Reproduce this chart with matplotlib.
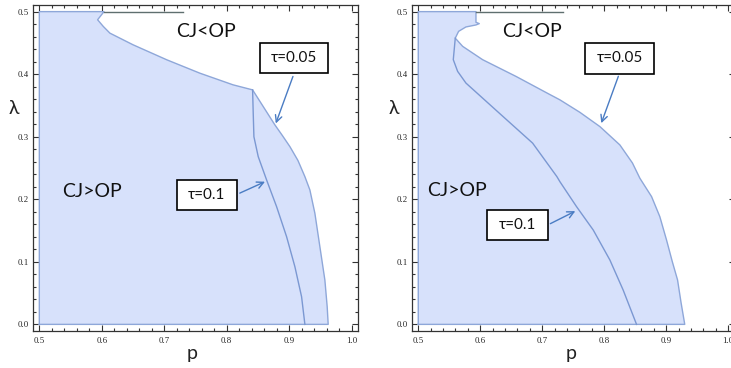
import numpy as np
import matplotlib.pyplot as plt
from matplotlib.patches import Rectangle

# --- Data (p, lambda) ---
# left panel: outer boundary (tau=0.05), from the notch at the top down to lambda=0
left_outer_p = [0.6035, 0.5933, 0.6024, 0.613, 0.650, 0.704, 0.757, 0.810, 0.8414,
                0.8771, 0.889, 0.9011, 0.914, 0.9251, 0.9331, 0.9411, 0.9491, 0.9571, 0.9608, 0.9624]
left_outer_lam = [0.5, 0.487, 0.4763, 0.4656, 0.447, 0.423, 0.4016, 0.383, 0.3749,
                  0.3189, 0.302, 0.2842, 0.262, 0.2362, 0.2149, 0.1776, 0.1242, 0.0709, 0.0282, 0.0]
# left panel: inner curve (tau=0.1)
left_inner_p = [0.8414, 0.8424, 0.8435, 0.8504, 0.8638, 0.8798, 0.8958, 0.9091, 0.9198, 0.9251]
left_inner_lam = [0.3749, 0.3376, 0.300, 0.2682, 0.2309, 0.1882, 0.1402, 0.0922, 0.0442, 0.0]

# right panel: outer boundary (tau=0.05)
right_outer_p = [0.5931, 0.5931, 0.5984, 0.5931, 0.5769, 0.5651, 0.5597, 0.5716, 0.6038,
                 0.6576, 0.7113, 0.7285, 0.7608, 0.7931, 0.8253, 0.8456, 0.8576, 0.8765,
                 0.8898, 0.9006, 0.910, 0.9184, 0.924, 0.930]
right_outer_lam = [0.5, 0.483, 0.4808, 0.4787, 0.4755, 0.4685, 0.4576, 0.4445, 0.4232,
                   0.3965, 0.368, 0.359, 0.339, 0.3162, 0.2869, 0.258, 0.2336, 0.2042,
                   0.1722, 0.1349, 0.100, 0.071, 0.035, 0.0]
# right panel: inner curve (tau=0.1)
right_inner_p = [0.5597, 0.5565, 0.5635, 0.5769, 0.6306, 0.6845, 0.7237, 0.7285,
                 0.7554, 0.7823, 0.8092, 0.8306, 0.8522]
right_inner_lam = [0.4576, 0.4232, 0.4045, 0.3858, 0.3378, 0.2898, 0.2362, 0.2282,
                   0.1882, 0.1509, 0.1029, 0.0549, 0.0]

# end of the dark line along lambda = 0.5
top_line_end = [0.7304, 0.733]

fill_col = '#d7e1fb'
edge_col = '#8ea7d9'
inner_col = '#7b98d2'
arrow_col = '#4a7cc3'

fig = plt.figure(figsize=(7.31, 3.68), dpi=100)
ax1 = fig.add_axes([32.7 / 731, 37 / 368, 325.6 / 731, 326 / 368])
ax2 = fig.add_axes([411.7 / 731, 37 / 368, 323 / 731, 326 / 368])


def draw_panel(ax, outer_p, outer_lam, inner_p, inner_lam, line_end):
    poly_p = [0.5, 0.5] + outer_p + [0.5]
    poly_l = [0.0, 0.5] + outer_lam + [0.0]
    ax.fill(poly_p, poly_l, color=fill_col, lw=0, zorder=1)
    ax.plot(poly_p, poly_l, color=edge_col, lw=1.0, zorder=2)
    ax.plot(inner_p, inner_lam, color=inner_col, lw=1.0, zorder=2)
    ax.plot([outer_p[0], line_end], [0.5, 0.5], color='#5f6f6f', lw=1.0, zorder=2)

    ax.set_xlim(0.4894, 1.0106)
    ax.set_ylim(-0.0106, 0.5106)
    ax.set_xticks(np.arange(0.5, 1.01, 0.1))
    ax.set_yticks(np.arange(0.0, 0.51, 0.1))
    ax.set_xticks(np.arange(0.5, 1.01, 0.02), minor=True)
    ax.set_yticks(np.arange(0.0, 0.51, 0.02), minor=True)
    ax.xaxis.set_major_formatter(plt.FormatStrFormatter('%.1f'))
    ax.yaxis.set_major_formatter(plt.FormatStrFormatter('%.1f'))
    ax.tick_params(which='both', direction='in', top=True, right=True,
                   colors='#333333', width=0.8)
    ax.tick_params(which='major', length=4)
    ax.tick_params(which='minor', length=2.2)
    ax.tick_params(axis='x', pad=4)
    ax.tick_params(axis='y', pad=3)
    for lab in ax.get_xticklabels() + ax.get_yticklabels():
        lab.set_fontfamily('Liberation Serif')
        lab.set_fontsize(6.3)
        lab.set_color('#222222')
    for s in ax.spines.values():
        s.set_color('#333333')
        s.set_linewidth(0.9)


def box_label(ax, x0, x1, y0, y1, text):
    ax.add_patch(Rectangle((x0, y0), x1 - x0, y1 - y0, facecolor='white',
                           edgecolor='black', lw=1.2, zorder=4))
    ax.text((x0 + x1) / 2, (y0 + y1) / 2, text, ha='center', va='center',
            fontsize=11, family='Lato', color='#111111', zorder=5)


def arrow(ax, start, end):
    ax.annotate('', xy=end, xytext=start,
                arrowprops=dict(arrowstyle='->', color=arrow_col, lw=1.0,
                                mutation_scale=12), zorder=3)


draw_panel(ax1, left_outer_p, left_outer_lam, left_inner_p, left_inner_lam, top_line_end[0])
draw_panel(ax2, right_outer_p, right_outer_lam, right_inner_p, right_inner_lam, top_line_end[1])

# --- text and annotations ---
txt = dict(fontsize=14, family='Lato', color='#111111', ha='center', va='center')
ax1.text(0.7667, 0.468, 'CJ<OP', **txt)
ax1.text(0.5837, 0.2123, 'CJ>OP', **txt)
ax2.text(0.684, 0.4685, 'CJ<OP', **txt)
ax2.text(0.5617, 0.2134, 'CJ>OP', **txt)

box_label(ax1, 0.853, 0.962, 0.4016, 0.4496, 'τ=0.05')
arrow(ax1, (0.9075, 0.4005), (0.877, 0.317))
box_label(ax1, 0.7197, 0.8168, 0.183, 0.231, 'τ=0.1')
arrow(ax1, (0.8168, 0.208), (0.8653, 0.2299))

box_label(ax2, 0.7697, 0.8796, 0.4008, 0.4498, 'τ=0.05')
arrow(ax2, (0.8244, 0.4008), (0.7938, 0.3175))
box_label(ax2, 0.6115, 0.7091, 0.135, 0.183, 'τ=0.1')
arrow(ax2, (0.7091, 0.159), (0.7574, 0.183))

lab = dict(fontsize=14, family='Lato', color='#222222', ha='center', va='center')
ax1.text(0.489, -0.0675, 'p', transform=ax1.transAxes, **lab)
ax1.text(-0.0574, 0.684, 'λ', transform=ax1.transAxes, **lab)
ax2.text(0.493, -0.0675, 'p', transform=ax2.transAxes, **lab)
ax2.text(-0.0548, 0.684, 'λ', transform=ax2.transAxes, **lab)

fig.savefig('out.png', dpi=100)
